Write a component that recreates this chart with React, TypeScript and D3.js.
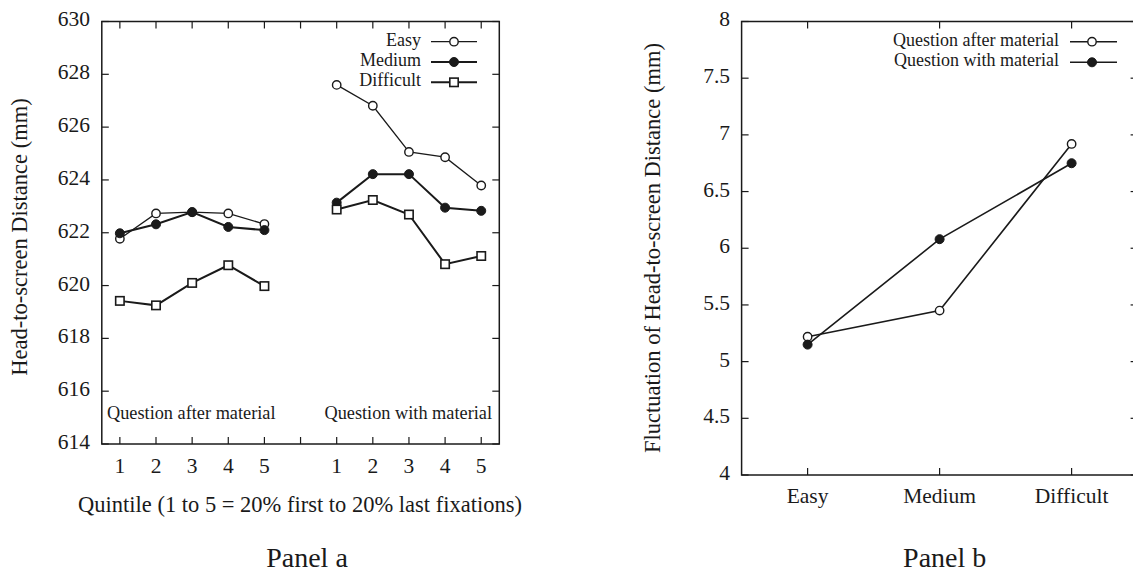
import React from "react";
import * as d3 from "d3";

// ---------- Data ----------
const quintiles = ["1", "2", "3", "4", "5"];
const easyAfter = [621.77, 622.73, 622.78, 622.73, 622.33];
const mediumAfter = [621.98, 622.32, 622.78, 622.22, 622.1];
const difficultAfter = [619.42, 619.25, 620.1, 620.77, 619.98];
const easyWith = [627.6, 626.81, 625.06, 624.86, 623.79];
const mediumWith = [623.14, 624.22, 624.22, 622.95, 622.83];
const difficultWith = [622.88, 623.24, 622.69, 620.81, 621.12];
const yTicksA = [614, 616, 618, 620, 622, 624, 626, 628, 630];

const levels = ["Easy", "Medium", "Difficult"];
const fluctAfter = [5.22, 5.45, 6.92];
const fluctWith = [5.15, 6.08, 6.75];
const yTicksB = [4, 4.5, 5, 5.5, 6, 6.5, 7, 7.5, 8];

const FONT = "Liberation Serif";
const INK = "#1a1a1a";

type Pt = [number, number];

function Marker({ kind, x, y }: { kind: string; x: number; y: number }) {
  if (kind === "open")
    return <circle cx={x} cy={y} r={4.2} fill="#fff" stroke={INK} strokeWidth={1.4} />;
  if (kind === "filled") return <circle cx={x} cy={y} r={4.5} fill={INK} stroke={INK} strokeWidth={1} />;
  return <rect x={x - 4.2} y={y - 4.2} width={8.4} height={8.4} fill="#fff" stroke={INK} strokeWidth={1.6} />;
}

function PanelA() {
  const L = 101.8, R = 499.3, T = 21.5, B = 444;
  const x = d3.scaleLinear().domain([0.5, 11.5]).range([L, R]);
  const y = d3.scaleLinear().domain([614, 630]).range([B, T]);
  const line = d3.line<Pt>().x((d) => d[0]).y((d) => d[1]);
  const series = [
    { name: "Easy", kind: "open", w: 1.3, after: easyAfter, with: easyWith },
    { name: "Medium", kind: "filled", w: 2, after: mediumAfter, with: mediumWith },
    { name: "Difficult", kind: "square", w: 2, after: difficultAfter, with: difficultWith },
  ];
  const xTickIdx = d3.range(1, 12);
  const tick = 7;
  return (
    <g>
      {xTickIdx.map((i) => (
        <g key={"xt" + i}>
          <line x1={x(i)} x2={x(i)} y1={B} y2={B - tick} stroke={INK} strokeWidth={1.2} />
          <line x1={x(i)} x2={x(i)} y1={T} y2={T + tick} stroke={INK} strokeWidth={1.2} />
          {i !== 6 && (
            <text x={x(i)} y={B + 24} textAnchor="middle" dominantBaseline="middle" fontSize={21.5}>
              {quintiles[(i <= 5 ? i : i - 6) - 1]}
            </text>
          )}
        </g>
      ))}
      {yTicksA.map((v) => (
        <g key={"yt" + v}>
          <line x1={L} x2={L + tick} y1={y(v)} y2={y(v)} stroke={INK} strokeWidth={1.2} />
          <line x1={R} x2={R - tick} y1={y(v)} y2={y(v)} stroke={INK} strokeWidth={1.2} />
          <text x={90} y={y(v)} textAnchor="end" dominantBaseline="middle" fontSize={21.5}>
            {v}
          </text>
        </g>
      ))}
      <rect x={L} y={T} width={R - L} height={B - T} fill="none" stroke={INK} strokeWidth={1.5} />
      {series.map((s) => {
        const pa: Pt[] = s.after.map((v, i) => [x(i + 1), y(v)]);
        const pw: Pt[] = s.with.map((v, i) => [x(i + 7), y(v)]);
        return (
          <g key={s.name}>
            <path d={line(pa) || ""} fill="none" stroke={INK} strokeWidth={s.w} />
            <path d={line(pw) || ""} fill="none" stroke={INK} strokeWidth={s.w} />
            {[...pa, ...pw].map((p, i) => (
              <Marker key={i} kind={s.kind} x={p[0]} y={p[1]} />
            ))}
          </g>
        );
      })}
      {series.map((s, i) => {
        const ly = 41.7 + i * 20.3;
        return (
          <g key={"lg" + s.name}>
            <text x={421} y={ly} textAnchor="end" dominantBaseline="middle" fontSize={18}>
              {s.name}
            </text>
            <line x1={431} x2={477} y1={ly} y2={ly} stroke={INK} strokeWidth={s.w} />
            <Marker kind={s.kind} x={454} y={ly} />
          </g>
        );
      })}
      <text x={107} y={415} dominantBaseline="middle" fontSize={18.3}>
        Question after material
      </text>
      <text x={492} y={415} textAnchor="end" dominantBaseline="middle" fontSize={18.3}>
        Question with material
      </text>
      <text x={300} y={506.7} textAnchor="middle" dominantBaseline="middle" fontSize={22.5}>
        Quintile (1 to 5 = 20% first to 20% last fixations)
      </text>
      <text
        transform={`translate(22,237) rotate(-90)`}
        textAnchor="middle"
        dominantBaseline="middle"
        fontSize={22.5}
      >
        Head-to-screen Distance (mm)
      </text>
      <text x={307} y={566.5} textAnchor="middle" fontSize={28}>
        Panel a
      </text>
    </g>
  );
}

function PanelB() {
  const L = 741.6, R = 1137.6, T = 21.5, B = 475;
  const x = d3.scalePoint<string>().domain(levels).range([L, R]).padding(0.5);
  const y = d3.scaleLinear().domain([4, 8]).range([B, T]);
  const line = d3.line<Pt>().x((d) => d[0]).y((d) => d[1]);
  const series = [
    { name: "Question after material", kind: "open", vals: fluctAfter },
    { name: "Question with material", kind: "filled", vals: fluctWith },
  ];
  const tick = 7;
  return (
    <g>
      {levels.map((c) => (
        <g key={c}>
          <line x1={x(c)} x2={x(c)} y1={B} y2={B - tick} stroke={INK} strokeWidth={1.2} />
          <line x1={x(c)} x2={x(c)} y1={T} y2={T + tick} stroke={INK} strokeWidth={1.2} />
          <text x={x(c)} y={498.5} textAnchor="middle" dominantBaseline="middle" fontSize={21.5}>
            {c}
          </text>
        </g>
      ))}
      {yTicksB.map((v) => (
        <g key={"yb" + v}>
          <line x1={L} x2={L + tick} y1={y(v)} y2={y(v)} stroke={INK} strokeWidth={1.2} />
          <line x1={R} x2={R - tick} y1={y(v)} y2={y(v)} stroke={INK} strokeWidth={1.2} />
          <text x={730} y={y(v)} textAnchor="end" dominantBaseline="middle" fontSize={21.5}>
            {v}
          </text>
        </g>
      ))}
      <rect x={L} y={T} width={R - L} height={B - T} fill="none" stroke={INK} strokeWidth={1.5} />
      {series.map((s) => {
        const pts: Pt[] = s.vals.map((v, i) => [x(levels[i]) as number, y(v)]);
        return (
          <g key={s.name}>
            <path d={line(pts) || ""} fill="none" stroke={INK} strokeWidth={1.6} />
            {pts.map((p, i) => (
              <Marker key={i} kind={s.kind} x={p[0]} y={p[1]} />
            ))}
          </g>
        );
      })}
      {series.map((s, i) => {
        const ly = 41.7 + i * 20.6;
        return (
          <g key={"lgb" + i}>
            <text x={1059} y={ly} textAnchor="end" dominantBaseline="middle" fontSize={18}>
              {s.name}
            </text>
            <line x1={1070} x2={1117} y1={ly} y2={ly} stroke={INK} strokeWidth={1.6} />
            <Marker kind={s.kind} x={1092} y={ly} />
          </g>
        );
      })}
      <text
        transform={`translate(655,248) rotate(-90)`}
        textAnchor="middle"
        dominantBaseline="middle"
        fontSize={22.5}
      >
        Fluctuation of Head-to-screen Distance (mm)
      </text>
      <text x={944.7} y={566.5} textAnchor="middle" fontSize={28}>
        Panel b
      </text>
    </g>
  );
}

export default function App() {
  return (
    <svg
      width={1133}
      height={572}
      style={{ position: "absolute", left: 0, top: 0, background: "#fff", fontFamily: FONT }}
      fill={INK}
    >
      <PanelA />
      <PanelB />
    </svg>
  );
}
